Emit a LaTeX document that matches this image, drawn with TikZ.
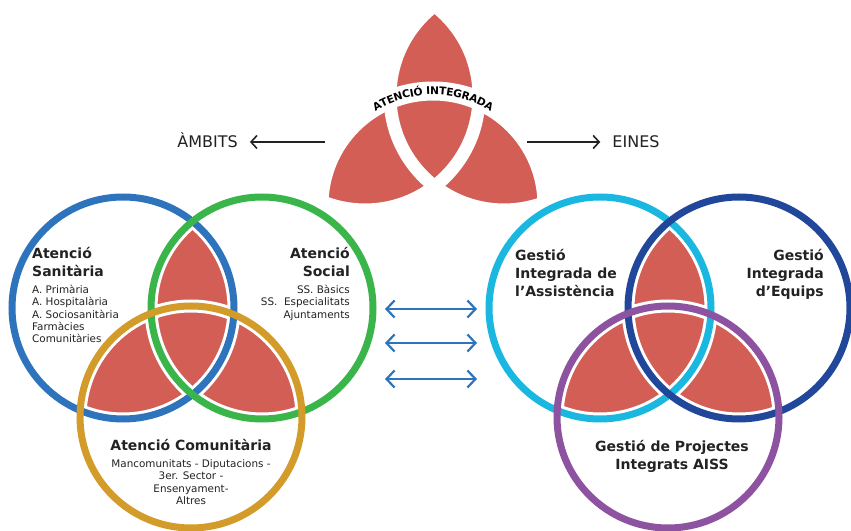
\documentclass[tikz,border=0pt]{standalone}
\usepackage{fontspec}
\setmainfont{DejaVu Sans}
\usepackage{xcolor}
\usetikzlibrary{positioning,arrows.meta,decorations.text}

\definecolor{lobered}{HTML}{D35E55}
\definecolor{sanblue}{HTML}{2E74BD}
\definecolor{socgreen}{HTML}{39B54A}
\definecolor{comgold}{HTML}{D39B2A}
\definecolor{assistcyan}{HTML}{1AB7E0}
\definecolor{equipblue}{HTML}{21479B}
\definecolor{projpurple}{HTML}{8D53A1}
\definecolor{arrowblue}{HTML}{2E74BD}
\definecolor{inkgray}{HTML}{222222}

\tikzset{
  ring/.style={line width=7pt},
  whitegap/.style={white, line width=13pt},
  title/.style={font=\fontsize{14}{18}\selectfont\bfseries, text=inkgray, inner sep=0pt},
  items/.style={font=\fontsize{10.4}{12.4}\selectfont, text=inkgray, inner sep=0pt},
  side/.style={font=\fontsize{16}{18}\selectfont, text=inkgray, text height=11.7pt, text depth=0pt, inner xsep=12pt},
  toparrow/.style={-{Straight Barb[length=6pt,width=13pt]}, line width=1.6pt, inkgray},
  linkarrow/.style={{Straight Barb[length=8pt,width=17pt]}-{Straight Barb[length=8pt,width=17pt]}, line width=2.2pt, arrowblue},
}

\newcommand{\redlobes}[4][111pt]{%
  \begin{scope}\clip (#2) circle (#1); \fill[lobered] (#3) circle (#1) (#4) circle (#1);\end{scope}
  \begin{scope}\clip (#3) circle (#1); \fill[lobered] (#4) circle (#1);\end{scope}}

\begin{document}
\begin{tikzpicture}[x=1pt,y=1pt]
\useasboundingbox (0,0) rectangle (851,530);

\coordinate (sanc) at (123,222);
\coordinate (socc) at (262,222);
\coordinate (comc) at (191,113);
\coordinate (assc) at (600,222);
\coordinate (equc) at (739,222);
\coordinate (proc) at (668,113);
\coordinate (logl) at (365,434);
\coordinate (logr) at (504,434);
\coordinate (logb) at (433,325);

% logo
\redlobes[114pt]{logl}{logr}{logb}
\draw[white, line width=13pt] (logl) circle (114pt) (logr) circle (114pt);
\draw[white, line width=19pt] (logb) circle (114pt);
\path[decorate, decoration={text along path, text align=center, raise=-3.8pt,
  text={|\fontsize{10.6}{10.6}\selectfont\bfseries|ATENCIÓ INTEGRADA}}]
  ([shift={(132:114pt)}]logb) arc[start angle=132, end angle=48, radius=114pt];

\node[side] (ambits) at (207.5,388) {ÀMBITS};
\node[side] (eines) at (636,388) {EINES};
\coordinate (ambstart) at (325,388);
\coordinate (einstart) at (527,388);
\draw[toparrow] (ambstart) -- (ambits);
\draw[toparrow] (einstart) -- (eines);

% ambits
\redlobes{sanc}{socc}{comc}
\draw[whitegap] (sanc) circle (111pt) (socc) circle (111pt) (comc) circle (111pt);
\draw[ring, sanblue] (sanc) circle (111pt);
\draw[ring, socgreen] (socc) circle (111pt);
\draw[ring, comgold] (comc) circle (111pt);

\node[title, anchor=north west, align=left] (sanit) at (32,283) {Atenció\\Sanitària};
\node[items, below=8pt of sanit.south west, anchor=north west, align=left] (sanitlist)
  {A. Primària\\A. Hospitalària\\A. Sociosanitària\\Farmàcies\\Comunitàries};
\node[title, anchor=north east, align=right] (social) at (350,283) {Atenció\\Social};
\node[items, below=8pt of social.south east, anchor=north east, align=right] (sociallist)
  {SS. Bàsics\\SS.\ \ Especialitats\\Ajuntaments};
\node[title, anchor=north] (comun) at (191,90.5) {Atenció Comunitària};
\node[items, below=8pt of comun, align=center] (comunlist)
  {Mancomunitats - Diputacions -\\3er. Sector -\\Ensenyament-\\Altres};

% eines
\redlobes{assc}{equc}{proc}
\draw[whitegap] (assc) circle (111pt) (equc) circle (111pt) (proc) circle (111pt);
\draw[ring, assistcyan] (assc) circle (111pt);
\draw[ring, equipblue] (equc) circle (111pt);
\draw[ring, projpurple] (proc) circle (111pt);

\node[title, anchor=north west, align=left] (gassist) at (515,281) {Gestió\\Integrada de\\l’Assistència};
\node[title, anchor=north east, align=right] (gequips) at (824,281) {Gestió\\Integrada\\d’Equips};
\node[title, anchor=north, align=center] (gproj) at (672,89.5) {Gestió de Projectes\\Integrats AISS};

\foreach \i/\y in {1/221,2/187,3/151}{
  \coordinate (linkl\i) at (385,\y);
  \coordinate (linkr\i) at (477,\y);
  \draw[linkarrow] (linkl\i) -- (linkr\i);
}
\end{tikzpicture}
\end{document}
